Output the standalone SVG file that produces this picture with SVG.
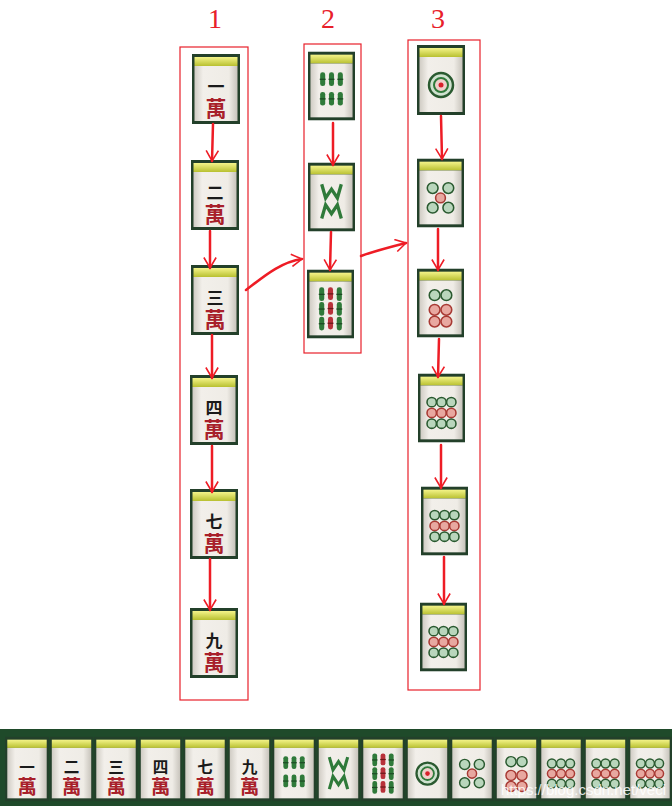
<svg xmlns="http://www.w3.org/2000/svg" xmlns:xlink="http://www.w3.org/1999/xlink" width="672" height="806" viewBox="0 0 672 806">
<style>
.box{fill:none;stroke:#e8202a;stroke-width:1.2}
.lbl{font-family:"Liberation Serif",serif;font-size:28px;fill:#e8202a;text-anchor:middle}
.arr{fill:none;stroke:#ee1c25;stroke-width:2.5;stroke-linecap:round}
.ch{font-family:"Noto Sans CJK SC",sans-serif;font-weight:bold;text-anchor:middle;fill:#1a1a1a;font-size:17px}
.wan{font-family:"Noto Sans CJK SC",sans-serif;font-weight:bold;text-anchor:middle;fill:#a8202a;font-size:21px}
.g{fill:#2f7a3a}
.cg{fill:#b9d6bc;stroke:#2a5a30;stroke-width:1.6}
.cr{fill:#e8a8a0;stroke:#a83a34;stroke-width:1.6}
.wm{fill:none;stroke:#2f7a3a;stroke-width:3.4}
</style>
<defs>
<linearGradient id="yb" x1="0" y1="0" x2="0" y2="1"><stop offset="0" stop-color="#f4f48a"/><stop offset="1" stop-color="#b8c030"/></linearGradient>
<linearGradient id="fc" x1="0" y1="0" x2="1" y2="0"><stop offset="0" stop-color="#d0ccc4"/><stop offset="0.2" stop-color="#f2efea"/><stop offset="0.8" stop-color="#efece6"/><stop offset="1" stop-color="#c8c4bc"/></linearGradient>
<marker id="v" viewBox="0 0 16 16" refX="13" refY="8" markerWidth="14" markerHeight="14" orient="auto" markerUnits="userSpaceOnUse"><path d="M1,1 L13,8 L1,15" fill="none" stroke="#ee1c25" stroke-width="1.8"/></marker>
<g id="base"><rect x="0" y="0" width="48" height="70" fill="#23402a"/><rect x="2.5" y="3" width="43" height="9" fill="url(#yb)"/><rect x="2.5" y="12" width="43" height="55" fill="url(#fc)"/></g>
<g id="st"><rect x="-2.6" y="0" width="5.2" height="14" rx="2.4" class="g"/><rect x="-3" y="6.5" width="6" height="1.3" fill="#1d4a24"/></g>
<g id="sr"><rect x="-2.6" y="0" width="5.2" height="13" rx="2.4" fill="#b8323a"/><rect x="-3" y="6" width="6" height="1.3" fill="#6a1a1a"/></g>
<symbol id="w1" viewBox="0 0 48 70"><use href="#base"/><text x="24" y="39" class="ch">一</text><text x="24" y="62" class="wan">萬</text></symbol>
<symbol id="w2" viewBox="0 0 48 70"><use href="#base"/><text x="24" y="39" class="ch">二</text><text x="24" y="62" class="wan">萬</text></symbol>
<symbol id="w3" viewBox="0 0 48 70"><use href="#base"/><text x="24" y="39" class="ch">三</text><text x="24" y="62" class="wan">萬</text></symbol>
<symbol id="w4" viewBox="0 0 48 70"><use href="#base"/><text x="24" y="39" class="ch">四</text><text x="24" y="62" class="wan">萬</text></symbol>
<symbol id="w7" viewBox="0 0 48 70"><use href="#base"/><text x="24" y="39" class="ch">七</text><text x="24" y="62" class="wan">萬</text></symbol>
<symbol id="w9" viewBox="0 0 48 70"><use href="#base"/><text x="24" y="39" class="ch">九</text><text x="24" y="62" class="wan">萬</text></symbol>
<symbol id="b6" viewBox="0 0 48 70"><use href="#base"/>
<use href="#st" x="15" y="21"/><use href="#st" x="24" y="21"/><use href="#st" x="33" y="21"/>
<use href="#st" x="15" y="41"/><use href="#st" x="24" y="41"/><use href="#st" x="33" y="41"/></symbol>
<symbol id="b8" viewBox="0 0 48 70"><use href="#base"/><path class="wm" d="M14,22 L18,36 L24,27 L30,36 L34,22"/><path class="wm" d="M14,57 L18,43 L24,52 L30,43 L34,57"/></symbol>
<symbol id="b9" viewBox="0 0 48 70"><use href="#base"/>
<use href="#st" x="15" y="18"/><use href="#sr" x="24" y="18"/><use href="#st" x="33" y="18"/>
<use href="#st" x="15" y="33"/><use href="#sr" x="24" y="33"/><use href="#st" x="33" y="33"/>
<use href="#st" x="15" y="48"/><use href="#sr" x="24" y="48"/><use href="#st" x="33" y="48"/></symbol>
<symbol id="c1" viewBox="0 0 48 70"><use href="#base"/><circle cx="24" cy="40" r="12" fill="#cfe2cf" stroke="#2a5a30" stroke-width="2.5"/><circle cx="24" cy="40" r="7" fill="#f0d0cc" stroke="#2f7a3a" stroke-width="2"/><circle cx="24" cy="40" r="2.5" fill="#d8202a"/></symbol>
<symbol id="c5" viewBox="0 0 48 70"><use href="#base"/><circle cx="16" cy="30" r="5.5" class="cg"/><circle cx="32" cy="30" r="5.5" class="cg"/><circle cx="24" cy="40" r="5" class="cr"/><circle cx="16" cy="50" r="5.5" class="cg"/><circle cx="32" cy="50" r="5.5" class="cg"/></symbol>
<symbol id="c6" viewBox="0 0 48 70"><use href="#base"/><circle cx="18" cy="27" r="5.5" class="cg"/><circle cx="30" cy="27" r="5.5" class="cg"/><circle cx="18" cy="42" r="5.5" class="cr"/><circle cx="30" cy="42" r="5.5" class="cr"/><circle cx="18" cy="54" r="5.5" class="cr"/><circle cx="30" cy="54" r="5.5" class="cr"/></symbol>
<symbol id="c9" viewBox="0 0 48 70"><use href="#base"/>
<circle cx="14" cy="29" r="4.8" class="cg"/><circle cx="24" cy="29" r="4.8" class="cg"/><circle cx="34" cy="29" r="4.8" class="cg"/>
<circle cx="14" cy="40" r="4.8" class="cr"/><circle cx="24" cy="40" r="4.8" class="cr"/><circle cx="34" cy="40" r="4.8" class="cr"/>
<circle cx="14" cy="51" r="4.8" class="cg"/><circle cx="24" cy="51" r="4.8" class="cg"/><circle cx="34" cy="51" r="4.8" class="cg"/></symbol>
</defs>
<rect width="672" height="806" fill="#ffffff"/>
<g id="labels"><text x="215" y="28" class="lbl">1</text><text x="328" y="28" class="lbl">2</text><text x="438" y="28" class="lbl">3</text></g>
<g id="groups"><rect class="box" x="180" y="47" width="68" height="653"/><rect class="box" x="304" y="44" width="57" height="309"/><rect class="box" x="408" y="40" width="72" height="650"/></g>
<g id="col1">
<use id="t1a" href="#w1" x="192" y="54" width="48" height="70"/>
<use id="t1b" href="#w2" x="191" y="160" width="48" height="70"/>
<use id="t1c" href="#w3" x="191" y="265" width="48" height="70"/>
<use id="t1d" href="#w4" x="190" y="375" width="48" height="70"/>
<use id="t1e" href="#w7" x="190" y="489" width="48" height="70"/>
<use id="t1f" href="#w9" x="190" y="608" width="48" height="70"/>
</g>
<g id="col2">
<use id="t2a" href="#b6" x="308" y="50" width="47" height="72"/>
<use id="t2b" href="#b8" x="308" y="162" width="47" height="70"/>
<use id="t2c" href="#b9" x="307" y="268" width="47" height="72"/>
</g>
<g id="col3">
<use id="t3a" href="#c1" x="417" y="45" width="48" height="70"/>
<use id="t3b" href="#c5" x="417" y="158" width="47" height="70"/>
<use id="t3c" href="#c6" x="417" y="268" width="47" height="70"/>
<use id="t3d" href="#c9" x="418" y="373" width="47" height="70"/>
<use id="t3e" href="#c9" x="421" y="486" width="47" height="70"/>
<use id="t3f" href="#c9" x="420" y="602" width="47" height="70"/>
</g>
<g id="connectors">
<path class="arr" marker-end="url(#v)" d="M213,124 L212,161"/>
<path class="arr" marker-end="url(#v)" d="M210,231 L210,268"/>
<path class="arr" marker-end="url(#v)" d="M212,335 L212,378"/>
<path class="arr" marker-end="url(#v)" d="M212,446 L212,492"/>
<path class="arr" marker-end="url(#v)" d="M210,559 L210,610"/>
<path class="arr" marker-end="url(#v)" d="M333,123 L333,165"/>
<path class="arr" marker-end="url(#v)" d="M331,232 L330,270"/>
<path class="arr" marker-end="url(#v)" d="M441,116 L442,159"/>
<path class="arr" marker-end="url(#v)" d="M438,229 L438,270"/>
<path class="arr" marker-end="url(#v)" d="M439,339 L438,377"/>
<path class="arr" marker-end="url(#v)" d="M441,445 L441,488"/>
<path class="arr" marker-end="url(#v)" d="M444,557 L444,604"/>
<path class="arr" marker-end="url(#v)" d="M246,290 C262,278 280,262 302,259"/>
<path class="arr" marker-end="url(#v)" d="M361,256 C375,251 390,247 406,243"/>
</g>
<g id="hand">
<rect x="0" y="729" width="672" height="77" fill="#1f4a2a"/>
<use href="#w1" x="5" y="736" width="44" height="66"/>
<use href="#w2" x="49.5" y="736" width="44" height="66"/>
<use href="#w3" x="94" y="736" width="44" height="66"/>
<use href="#w4" x="138.5" y="736" width="44" height="66"/>
<use href="#w7" x="183" y="736" width="44" height="66"/>
<use href="#w9" x="227.5" y="736" width="44" height="66"/>
<use href="#b6" x="272" y="736" width="44" height="66"/>
<use href="#b8" x="316.5" y="736" width="44" height="66"/>
<use href="#b9" x="361" y="736" width="44" height="66"/>
<use href="#c1" x="405.5" y="736" width="44" height="66"/>
<use href="#c5" x="450" y="736" width="44" height="66"/>
<use href="#c6" x="494.5" y="736" width="44" height="66"/>
<use href="#c9" x="539" y="736" width="44" height="66"/>
<use href="#c9" x="583.5" y="736" width="44" height="66"/>
<use href="#c9" x="628" y="736" width="44" height="66"/>
<text x="666" y="795" text-anchor="end" font-family="Liberation Sans,sans-serif" font-size="15" fill="#ffffff" fill-opacity="0.85">https://blog.csdn.net/veci</text>
</g>
</svg>
